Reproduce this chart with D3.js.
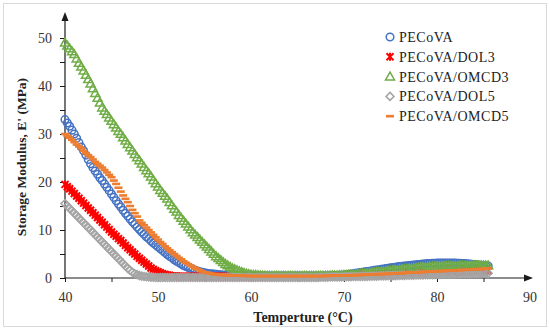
<!DOCTYPE html>
<html>
<head>
<meta charset="utf-8">
<script src="https://cdn.jsdelivr.net/npm/d3@7"></script>
<style>
    body { margin: 0; background: #fff; }
    #chart { width: 550px; height: 331px; }
    text { font-family: "Liberation Serif", "Times New Roman", serif; }
</style>
</head>
<body>
<div id="chart"></div>
<script>
// temperature readings, 0.25 °C apart (one row = 2 °C)
const temps = [
    40, 40.25, 40.5, 40.75, 41, 41.25, 41.5, 41.75,
    42, 42.25, 42.5, 42.75, 43, 43.25, 43.5, 43.75,
    44, 44.25, 44.5, 44.75, 45, 45.25, 45.5, 45.75,
    46, 46.25, 46.5, 46.75, 47, 47.25, 47.5, 47.75,
    48, 48.25, 48.5, 48.75, 49, 49.25, 49.5, 49.75,
    50, 50.25, 50.5, 50.75, 51, 51.25, 51.5, 51.75,
    52, 52.25, 52.5, 52.75, 53, 53.25, 53.5, 53.75,
    54, 54.25, 54.5, 54.75, 55, 55.25, 55.5, 55.75,
    56, 56.25, 56.5, 56.75, 57, 57.25, 57.5, 57.75,
    58, 58.25, 58.5, 58.75, 59, 59.25, 59.5, 59.75,
    60, 60.25, 60.5, 60.75, 61, 61.25, 61.5, 61.75,
    62, 62.25, 62.5, 62.75, 63, 63.25, 63.5, 63.75,
    64, 64.25, 64.5, 64.75, 65, 65.25, 65.5, 65.75,
    66, 66.25, 66.5, 66.75, 67, 67.25, 67.5, 67.75,
    68, 68.25, 68.5, 68.75, 69, 69.25, 69.5, 69.75,
    70, 70.25, 70.5, 70.75, 71, 71.25, 71.5, 71.75,
    72, 72.25, 72.5, 72.75, 73, 73.25, 73.5, 73.75,
    74, 74.25, 74.5, 74.75, 75, 75.25, 75.5, 75.75,
    76, 76.25, 76.5, 76.75, 77, 77.25, 77.5, 77.75,
    78, 78.25, 78.5, 78.75, 79, 79.25, 79.5, 79.75,
    80, 80.25, 80.5, 80.75, 81, 81.25, 81.5, 81.75,
    82, 82.25, 82.5, 82.75, 83, 83.25, 83.5, 83.75,
    84, 84.25, 84.5, 84.75, 85, 85.25, 85.5
];

// storage modulus E' (MPa) per sample
const pecova = [
    33, 32.3, 31.6, 30.8, 30, 29.1, 28.2, 27.3,
    26.5, 25.6, 24.7, 23.8, 23, 22.3, 21.6, 20.9,
    20.3, 19.6, 18.9, 18.2, 17.5, 16.8, 16.1, 15.4,
    14.8, 14.1, 13.5, 12.9, 12.3, 11.7, 11.2, 10.6,
    10.1, 9.6, 9.1, 8.6, 8.2, 7.7, 7.3, 6.9,
    6.5, 6.1, 5.7, 5.3, 4.9, 4.5, 4.2, 3.8,
    3.5, 3.2, 2.9, 2.6, 2.4, 2.2, 2.0, 1.8,
    1.6, 1.45, 1.3, 1.2, 1.1, 1.0, 0.9, 0.85,
    0.8, 0.75, 0.7, 0.65, 0.6, 0.58, 0.55, 0.52,
    0.5, 0.49, 0.48, 0.46, 0.45, 0.44, 0.43, 0.42,
    0.42, 0.41, 0.4, 0.4, 0.4, 0.4, 0.4, 0.4,
    0.4, 0.4, 0.4, 0.4, 0.4, 0.4, 0.4, 0.4,
    0.4, 0.4, 0.4, 0.4, 0.4, 0.4, 0.4, 0.4,
    0.4, 0.4, 0.4, 0.4, 0.4, 0.4, 0.4, 0.4,
    0.4, 0.42, 0.45, 0.48, 0.5, 0.52, 0.55, 0.58,
    0.6, 0.68, 0.75, 0.82, 0.9, 0.98, 1.05, 1.12,
    1.2, 1.28, 1.35, 1.42, 1.5, 1.58, 1.65, 1.72,
    1.8, 1.88, 1.95, 2.02, 2.1, 2.18, 2.25, 2.32,
    2.4, 2.45, 2.5, 2.55, 2.6, 2.65, 2.7, 2.75,
    2.8, 2.85, 2.9, 2.95, 3.0, 3.02, 3.05, 3.08,
    3.1, 3.1, 3.1, 3.1, 3.1, 3.1, 3.1, 3.1,
    3.1, 3.08, 3.05, 3.02, 3.0, 2.95, 2.9, 2.85,
    2.8, 2.75, 2.7, 2.65, 2.6, 2.55, 2.5
];
const dol3 = [
    19.5, 19.0, 18.6, 18.1, 17.6, 17.1, 16.6, 16.1,
    15.6, 15.1, 14.6, 14.1, 13.6, 13.1, 12.6, 12.1,
    11.6, 11.1, 10.6, 10.1, 9.6, 9.1, 8.7, 8.2,
    7.8, 7.3, 6.8, 6.3, 5.9, 5.4, 5.0, 4.5,
    4.1, 3.7, 3.3, 2.9, 2.5, 2.1, 1.8, 1.5,
    1.3, 1.1, 0.9, 0.75, 0.6, 0.52, 0.45, 0.4,
    0.35, 0.32, 0.3, 0.3, 0.3, 0.3, 0.3, 0.3,
    0.3, 0.3, 0.3, 0.3, 0.3, 0.3, 0.3, 0.3,
    0.3, 0.3, 0.3, 0.3, 0.3, 0.3, 0.3, 0.3,
    0.3, 0.3, 0.3, 0.3, 0.3, 0.3, 0.3, 0.3,
    0.3, 0.3, 0.3, 0.3, 0.3, 0.3, 0.3, 0.3,
    0.3, 0.3, 0.3, 0.3, 0.3, 0.3, 0.3, 0.3,
    0.3, 0.3, 0.3, 0.3, 0.3, 0.3, 0.3, 0.3,
    0.3, 0.3, 0.3, 0.3, 0.3, 0.3, 0.3, 0.3,
    0.3, 0.32, 0.35, 0.38, 0.4, 0.4, 0.4, 0.42,
    0.45, 0.48, 0.5, 0.5, 0.5, 0.52, 0.55, 0.58,
    0.6, 0.6, 0.6, 0.62, 0.65, 0.68, 0.7, 0.7,
    0.7, 0.72, 0.75, 0.78, 0.8, 0.8, 0.8, 0.82,
    0.85, 0.88, 0.9, 0.9, 0.9, 0.92, 0.95, 0.98,
    1.0, 1.0, 1.0, 1.02, 1.05, 1.08, 1.1, 1.1,
    1.1, 1.12, 1.15, 1.18, 1.2, 1.2, 1.2, 1.22,
    1.25, 1.28, 1.3, 1.3, 1.3, 1.32, 1.35, 1.38,
    1.4, 1.4, 1.4, 1.42, 1.45, 1.48, 1.5
];
const omcd3 = [
    49, 48.4, 47.8, 47.2, 46.6, 45.7, 44.8, 44.0,
    43.2, 42.3, 41.4, 40.5, 39.5, 38.5, 37.5, 36.5,
    35.5, 34.8, 34.1, 33.4, 32.7, 32.0, 31.3, 30.6,
    30, 29.3, 28.6, 27.9, 27.2, 26.5, 25.8, 25.1,
    24.5, 23.8, 23.1, 22.4, 21.8, 21.1, 20.4, 19.7,
    19, 18.3, 17.7, 17.1, 16.5, 15.8, 15.1, 14.4,
    13.8, 13.1, 12.5, 11.9, 11.3, 10.7, 10.1, 9.5,
    9, 8.5, 8, 7.5, 7, 6.5, 6, 5.5,
    5, 4.5, 4.1, 3.7, 3.3, 2.9, 2.6, 2.3,
    2, 1.8, 1.6, 1.4, 1.2, 1.05, 0.9, 0.8,
    0.7, 0.65, 0.6, 0.55, 0.5, 0.48, 0.45, 0.42,
    0.4, 0.4, 0.4, 0.4, 0.4, 0.4, 0.4, 0.4,
    0.4, 0.4, 0.4, 0.4, 0.4, 0.4, 0.4, 0.4,
    0.4, 0.4, 0.4, 0.4, 0.4, 0.42, 0.45, 0.45,
    0.45, 0.45, 0.5, 0.5, 0.5, 0.52, 0.55, 0.55,
    0.6, 0.62, 0.65, 0.7, 0.75, 0.78, 0.8, 0.85,
    0.9, 0.95, 1.0, 1.05, 1.1, 1.15, 1.2, 1.25,
    1.3, 1.35, 1.4, 1.45, 1.5, 1.55, 1.6, 1.65,
    1.7, 1.75, 1.8, 1.85, 1.9, 1.95, 2.0, 2.05,
    2.1, 2.15, 2.2, 2.22, 2.25, 2.3, 2.35, 2.38,
    2.4, 2.42, 2.45, 2.48, 2.5, 2.5, 2.5, 2.5,
    2.5, 2.52, 2.55, 2.55, 2.55, 2.58, 2.6, 2.6,
    2.6, 2.6, 2.6, 2.6, 2.6, 2.6, 2.6
];
const dol5 = [
    15.5, 15.0, 14.5, 14.0, 13.5, 13.0, 12.5, 12.0,
    11.5, 11.0, 10.5, 10.0, 9.5, 9.0, 8.5, 8.0,
    7.5, 7.0, 6.5, 6.0, 5.5, 5.0, 4.5, 4.0,
    3.5, 3.0, 2.5, 2.0, 1.6, 1.2, 0.9, 0.7,
    0.5, 0.4, 0.3, 0.25, 0.2, 0.18, 0.15, 0.12,
    0.1, 0.1, 0.1, 0.1, 0.1, 0.1, 0.1, 0.1,
    0.1, 0.1, 0.1, 0.1, 0.1, 0.1, 0.1, 0.1,
    0.1, 0.1, 0.1, 0.1, 0.1, 0.1, 0.1, 0.1,
    0.1, 0.1, 0.1, 0.1, 0.1, 0.1, 0.1, 0.1,
    0.1, 0.1, 0.1, 0.1, 0.1, 0.1, 0.1, 0.1,
    0.1, 0.1, 0.1, 0.1, 0.1, 0.1, 0.1, 0.1,
    0.1, 0.1, 0.1, 0.1, 0.1, 0.1, 0.1, 0.1,
    0.1, 0.1, 0.1, 0.1, 0.1, 0.1, 0.1, 0.1,
    0.1, 0.1, 0.1, 0.1, 0.1, 0.12, 0.15, 0.15,
    0.15, 0.18, 0.2, 0.2, 0.2, 0.2, 0.2, 0.22,
    0.25, 0.25, 0.25, 0.28, 0.3, 0.3, 0.3, 0.32,
    0.35, 0.35, 0.35, 0.38, 0.4, 0.4, 0.4, 0.42,
    0.45, 0.45, 0.45, 0.48, 0.5, 0.5, 0.5, 0.52,
    0.55, 0.55, 0.55, 0.58, 0.6, 0.6, 0.6, 0.62,
    0.65, 0.65, 0.65, 0.68, 0.7, 0.7, 0.7, 0.72,
    0.75, 0.75, 0.75, 0.78, 0.8, 0.8, 0.8, 0.82,
    0.85, 0.85, 0.85, 0.88, 0.9, 0.9, 0.9, 0.92,
    0.95, 0.95, 0.95, 0.98, 1.0, 1.0, 1.0
];
const omcd5 = [
    30, 29.6, 29.2, 28.8, 28.3, 27.8, 27.4, 27.0,
    26.5, 26.0, 25.6, 25.2, 24.7, 24.2, 23.8, 23.4,
    23, 22.5, 22, 21.5, 21, 20.3, 19.6, 18.8,
    18, 17.2, 16.5, 15.8, 15, 14.2, 13.5, 12.8,
    12, 11.5, 11, 10.5, 10, 9.5, 9, 8.5,
    8, 7.5, 7.1, 6.6, 6.2, 5.8, 5.4, 5.0,
    4.6, 4.2, 3.9, 3.5, 3.2, 2.9, 2.6, 2.3,
    2, 1.8, 1.6, 1.4, 1.2, 1.1, 1.0, 0.9,
    0.8, 0.75, 0.7, 0.65, 0.6, 0.58, 0.55, 0.52,
    0.5, 0.5, 0.5, 0.48, 0.45, 0.45, 0.45, 0.42,
    0.4, 0.4, 0.4, 0.4, 0.4, 0.4, 0.4, 0.4,
    0.4, 0.4, 0.4, 0.4, 0.4, 0.4, 0.4, 0.4,
    0.4, 0.4, 0.4, 0.4, 0.4, 0.4, 0.4, 0.4,
    0.4, 0.4, 0.4, 0.4, 0.4, 0.4, 0.4, 0.4,
    0.45, 0.45, 0.45, 0.48, 0.5, 0.5, 0.5, 0.5,
    0.5, 0.52, 0.55, 0.58, 0.6, 0.6, 0.6, 0.62,
    0.65, 0.68, 0.7, 0.72, 0.75, 0.78, 0.8, 0.8,
    0.8, 0.82, 0.85, 0.88, 0.9, 0.92, 0.95, 0.98,
    1.0, 1.02, 1.05, 1.08, 1.1, 1.12, 1.15, 1.18,
    1.2, 1.22, 1.25, 1.28, 1.3, 1.32, 1.35, 1.38,
    1.4, 1.42, 1.45, 1.48, 1.5, 1.52, 1.55, 1.58,
    1.6, 1.62, 1.65, 1.68, 1.7, 1.72, 1.75, 1.78,
    1.8, 1.82, 1.85, 1.88, 1.9, 1.92, 1.95
];

const seriesNames = ['PECoVA', 'PECoVA/DOL3', 'PECoVA/OMCD3', 'PECoVA/DOL5', 'PECoVA/OMCD5'];
const seriesValues = [pecova, dol3, omcd3, dol5, omcd5];
const xTicks = [40, 50, 60, 70, 80, 90];
const yTicks = [0, 10, 20, 30, 40, 50];

// marker look per series
const markerStyle = [
    {shape: 'circle',   color: '#4472C4'},
    {shape: 'star',     color: '#FF0000'},
    {shape: 'triangle', color: '#70AD47'},
    {shape: 'diamond',  color: '#A5A5A5'},
    {shape: 'dash',     color: '#ED7D31'}
];

const width = 550;
const height = 331;
const margin = {t:38, r:20, b:53, l:65};

const svg = d3.select('#chart')
    .append('svg')
    .attr('width', width)
    .attr('height', height);

// light frame around the whole figure
svg.append('rect')
    .attr('x', 3.5).attr('y', 3.5)
    .attr('width', 543).attr('height', 323)
    .attr('fill', 'none')
    .attr('stroke', '#d9d9d9');

// scales
const scaleX = d3.scaleLinear()
    .domain([40, 90])
    .range([margin.l, 530]);
const scaleY = d3.scaleLinear()
    .domain([0, 50])
    .range([height - margin.b, margin.t]);

// draw one marker into a <g> placed at its point
function drawMarker(g, style) {
    const c = style.color;
    if (style.shape === 'circle') {
        g.append('circle').attr('r', 3.8)
            .attr('fill', 'none').attr('stroke', c).attr('stroke-width', 1.5);
    } else if (style.shape === 'star') {
        g.append('path').attr('d', 'M-3.5,-3.5L3.5,3.5M-3.5,3.5L3.5,-3.5M0,-4L0,4')
            .attr('fill', 'none').attr('stroke', c).attr('stroke-width', 2);
    } else if (style.shape === 'triangle') {
        g.append('path').attr('d', 'M0,-4.5L4.5,3.3L-4.5,3.3Z')
            .attr('fill', 'none').attr('stroke', c).attr('stroke-width', 1.5);
    } else if (style.shape === 'diamond') {
        g.append('path').attr('d', 'M0,-4L4,0L0,4L-4,0Z')
            .attr('fill', 'none').attr('stroke', c).attr('stroke-width', 1.5);
    } else {
        g.append('path').attr('d', 'M-4,0L4,0')
            .attr('fill', 'none').attr('stroke', c).attr('stroke-width', 2.6);
    }
}

/* AXES */
const axisColor = '#1a1a1a';

const yAxis = d3.axisLeft(scaleY)
    .tickValues(d3.range(0, 51, 5))
    .tickSize(5)
    .tickFormat(d => yTicks.includes(d) ? d : '');
const xAxis = d3.axisBottom(scaleX)
    .tickValues(d3.range(40, 86, 5))
    .tickSize(4)
    .tickFormat(d => xTicks.includes(d) ? d : '');

const gy = svg.append('g')
    .attr('transform', `translate(${margin.l},0)`)
    .call(yAxis);
gy.select('.domain').remove();
gy.selectAll('line').attr('stroke', axisColor);
gy.selectAll('text')
    .attr('x', -13)
    .attr('fill', '#333')
    .style('font-size', '14px');

const gx = svg.append('g')
    .attr('transform', `translate(0,${height - margin.b})`)
    .call(xAxis);
gx.select('.domain').remove();
gx.selectAll('line').attr('stroke', axisColor);
gx.selectAll('text')
    .attr('y', 14)
    .attr('fill', '#333')
    .style('font-size', '14px');
// the 90 label sits past the last tick
gx.append('text')
    .attr('x', scaleX(90)).attr('y', 14).attr('dy', '0.71em')
    .attr('text-anchor', 'middle')
    .attr('fill', '#333')
    .style('font-size', '14px')
    .text(xTicks[xTicks.length - 1]);

// axis lines with arrow heads
svg.append('line')
    .attr('x1', margin.l).attr('y1', scaleY(0))
    .attr('x2', margin.l).attr('y2', 18)
    .attr('stroke', axisColor).attr('stroke-width', 1.2);
svg.append('path')
    .attr('d', `M${margin.l},12L${margin.l + 3.5},21L${margin.l - 3.5},21Z`)
    .attr('fill', axisColor);
svg.append('line')
    .attr('x1', margin.l).attr('y1', scaleY(0))
    .attr('x2', 526).attr('y2', scaleY(0))
    .attr('stroke', axisColor).attr('stroke-width', 1.2);
svg.append('path')
    .attr('d', `M533,${scaleY(0)}L524,${scaleY(0) - 3.5}L524,${scaleY(0) + 3.5}Z`)
    .attr('fill', axisColor);

// axis titles
svg.append('text')
    .attr('x', 303).attr('y', 322)
    .attr('text-anchor', 'middle')
    .style('font-size', '14px')
    .style('font-weight', 'bold')
    .attr('fill', '#222')
    .text('Temperture (°C)');
svg.append('text')
    .attr('transform', 'translate(26,157) rotate(-90)')
    .attr('text-anchor', 'middle')
    .style('font-size', '13.5px')
    .style('font-weight', 'bold')
    .attr('fill', '#222')
    .text("Storage Modulus, E' (MPa)");

/* SERIES */
const plot = svg.append('g').classed('plot', true);

seriesValues.forEach((vals, i) => {
    const pts = vals.map((v, j) => ({t: temps[j], v: v}));
    const layer = plot.append('g').classed('series-' + i, true);
    layer.selectAll('g')
        .data(pts)
        .enter()
        .append('g')
        .attr('transform', d => `translate(${scaleX(d.t)},${scaleY(d.v)})`)
        .each(function() { drawMarker(d3.select(this), markerStyle[i]); });
});

/* LEGEND */
const legend = svg.append('g')
    .attr('transform', 'translate(390,37)');
const legendItems = legend.selectAll('.legend-item')
    .data(seriesNames)
    .enter()
    .append('g')
    .classed('legend-item', true)
    .attr('transform', (d, i) => `translate(0,${i * 19.8})`);
legendItems.each(function(d, i) { drawMarker(d3.select(this), markerStyle[i]); });
legendItems.append('text')
    .attr('x', 9)
    .attr('dy', '0.35em')
    .attr('fill', '#222')
    .style('font-size', '14px')
    .style('letter-spacing', '0.5px')
    .text(d => d);
</script>
</body>
</html>
